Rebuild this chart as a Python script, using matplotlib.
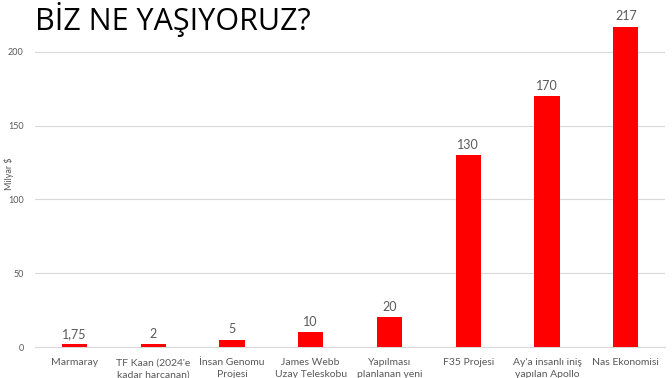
import matplotlib
matplotlib.use('Agg')
import matplotlib.pyplot as plt

# Veriler
kategoriler = ['Marmaray', "TF Kaan (2024'e\nkadar harcanan)", 'İnsan Genomu\nProjesi',
               'James Webb\nUzay Teleskobu', 'Yapılması\nplanlanan yeni',
               'F35 Projesi', "Ay'a insanlı iniş\nyapılan Apollo", 'Nas Ekonomisi']
degerler = [1.75, 2, 5, 10, 20, 130, 170, 217]
etiketler = ['1,75', '2', '5', '10', '20', '130', '170', '217']
y_ticks = [0, 50, 100, 150, 200]

plt.rcParams['font.family'] = ['Lato', 'DejaVu Sans']

fig = plt.figure(figsize=(6.72, 3.78), dpi=100)
ax = fig.add_axes([0.052, 0.082, 0.938, 0.918])

x = range(len(kategoriler))
ax.bar(x, degerler, width=0.32, color='#FF0000', zorder=3)

for xi, v, t in zip(x, degerler, etiketler):
    ax.text(xi, v + 3, t, ha='center', va='bottom', fontsize=9, color='#595959')

ax.set_xlim(-0.5, len(kategoriler) - 0.5)
ax.set_ylim(0, 235)
ax.set_yticks(y_ticks)
ax.set_xticks(list(x))
ax.set_xticklabels(kategoriler, fontsize=7.5, color='#595959', linespacing=1.45)
ax.tick_params(axis='y', labelsize=6.5, labelcolor='#595959', length=0, pad=8)
ax.tick_params(axis='x', length=0, pad=8)
ax.grid(axis='y', color='#D9D9D9', linewidth=0.8, zorder=0)
for s in ['top', 'right', 'left']:
    ax.spines[s].set_visible(False)
ax.spines['bottom'].set_color('#D9D9D9')

fig.text(0.006, 0.54, 'Milyar $', rotation=90, fontsize=6.5, color='#595959', va='center')

fig.text(0.052, 0.995, 'BİZ NE YAŞIYORUZ?', fontsize=22, color='black',
         family=['Open Sans', 'DejaVu Sans'], va='top', ha='left')

fig.savefig('out.png', dpi=100)
